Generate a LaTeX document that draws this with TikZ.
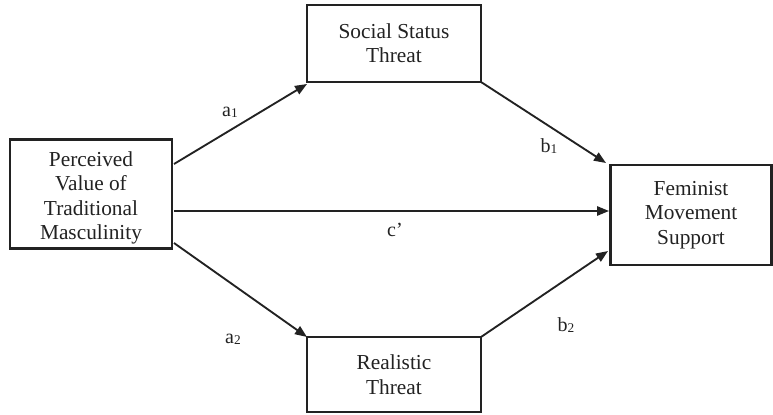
\documentclass[tikz,border=0pt]{standalone}
\usepackage{fontspec}
\setmainfont{Liberation Serif}
\usetikzlibrary{arrows.meta}
\definecolor{ink}{HTML}{222222}
\newcommand{\sbs}[1]{\raisebox{-1pt}{\fontsize{10}{10}\selectfont #1}}
\begin{document}
\begin{tikzpicture}[x=0.75pt,y=-0.75pt,
  box/.style={draw=ink,line width=1.6pt,rectangle,align=center,inner sep=0pt,
    font=\fontsize{16}{18.3}\selectfont,text=ink},
  txt/.style={align=center,inner sep=0pt,font=\fontsize{16}{18.3}\selectfont,text=ink},
  arr/.style={draw=ink,line width=1.4pt,-{Triangle[length=9pt,width=7pt]}},
  lbl/.style={font=\fontsize{15}{16}\selectfont,text=ink}]
\useasboundingbox (0,0) rectangle (773,414);
\node[box,minimum width=162*0.75pt,minimum height=109*0.75pt] (pv) at (91,194) {};
\node[txt] (pvt) at (91,198) {Perceived\\Value of\\Traditional\\Masculinity};
\node[box,minimum width=174*0.75pt,minimum height=77*0.75pt] (ss) at (394,43.5) {Social Status\\Threat};
\node[box,minimum width=174*0.75pt,minimum height=75*0.75pt] (rt) at (394,374.5) {Realistic\\Threat};
\node[box,minimum width=161*0.75pt,minimum height=100*0.75pt] (fm) at (691,215) {Feminist\\Movement\\Support};
\coordinate (a1s) at (174,164);
\coordinate (a1e) at (307,84);
\coordinate (b1s) at (481,82);
\coordinate (b1e) at (606,163);
\coordinate (cs) at (174,211);
\coordinate (ce) at (609,211);
\coordinate (a2s) at (174,243);
\coordinate (a2e) at (307,337);
\coordinate (b2s) at (481,337);
\coordinate (b2e) at (608,251);
\draw[arr] (a1s) -- (a1e);
\draw[arr] (b1s) -- (b1e);
\draw[arr] (cs) -- (ce);
\draw[arr] (a2s) -- (a2e);
\draw[arr] (b2s) -- (b2e);
\node[lbl] (la1) at (230,112) {a\sbs{1}};
\node[lbl] (lb1) at (549,146) {b\sbs{1}};
\node[lbl] (lc) at (395,230) {c’};
\node[lbl] (la2) at (233,339) {a\sbs{2}};
\node[lbl] (lb2) at (566,325) {b\sbs{2}};
\end{tikzpicture}
\end{document}
